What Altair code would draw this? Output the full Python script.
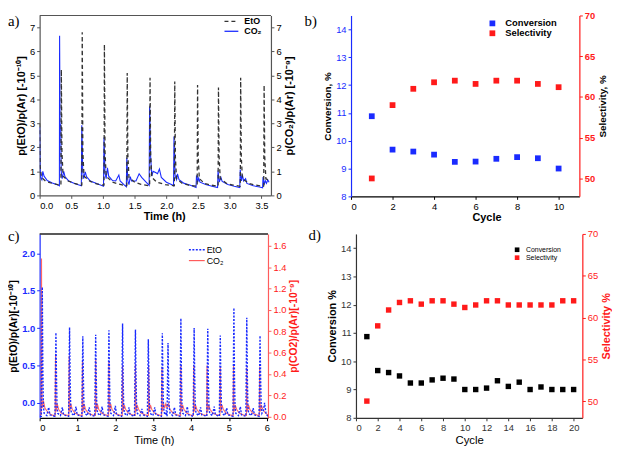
import altair as alt
import pandas as pd

# ---------------- Panel a: EtO (left axis) and CO2 (right axis) vs time ----------------
a_eto_t = [0.000, 0.008, 0.030, 0.100, 0.200, 0.333,
           0.336, 0.342, 0.352, 0.370, 0.450, 0.550, 0.663,
           0.666, 0.672, 0.682, 0.700, 0.800, 0.900, 1.013,
           1.016, 1.022, 1.032, 1.050, 1.150, 1.250, 1.373,
           1.376, 1.382, 1.392, 1.410, 1.500, 1.600, 1.733,
           1.736, 1.742, 1.752, 1.770, 1.850, 1.980, 2.123,
           2.126, 2.132, 2.142, 2.160, 2.250, 2.350, 2.483,
           2.486, 2.492, 2.502, 2.520, 2.600, 2.700, 2.813,
           2.816, 2.822, 2.832, 2.850, 2.950, 3.050, 3.163,
           3.166, 3.172, 3.182, 3.200, 3.300, 3.400, 3.533,
           3.536, 3.542, 3.552, 3.570, 3.620]
a_eto_v = [3.00, 1.20, 0.75, 0.58, 0.50, 0.42,
           0.45, 5.25, 1.80, 0.80, 0.60, 0.50, 0.42,
           0.45, 6.80, 1.80, 0.80, 0.58, 0.48, 0.42,
           0.45, 6.30, 1.80, 0.80, 0.55, 0.47, 0.40,
           0.42, 5.10, 1.70, 0.75, 0.55, 0.46, 0.40,
           0.42, 4.90, 1.70, 0.75, 0.55, 0.45, 0.40,
           0.42, 4.75, 1.60, 0.70, 0.50, 0.43, 0.38,
           0.40, 4.60, 1.60, 0.70, 0.50, 0.43, 0.38,
           0.40, 4.50, 1.60, 0.70, 0.50, 0.43, 0.38,
           0.40, 4.90, 1.60, 0.70, 0.50, 0.43, 0.38,
           0.40, 4.60, 1.60, 0.70, 0.60]

a_co2_t = [0.000, 0.006, 0.015, 0.035, 0.050, 0.070, 0.120, 0.200, 0.300,
           0.312, 0.315, 0.322, 0.332, 0.340, 0.355, 0.380, 0.400, 0.460, 0.550, 0.658,
           0.665, 0.672, 0.680, 0.695, 0.720, 0.740, 0.800, 0.900, 1.008,
           1.015, 1.022, 1.032, 1.050, 1.070, 1.090, 1.150, 1.200, 1.250, 1.270, 1.330, 1.368,
           1.375, 1.382, 1.392, 1.410, 1.430, 1.450, 1.520, 1.570, 1.610, 1.680, 1.728,
           1.735, 1.742, 1.752, 1.770, 1.790, 1.830, 1.860, 1.890, 1.920, 2.000, 2.080, 2.113,
           2.120, 2.128, 2.138, 2.160, 2.175, 2.200, 2.280, 2.380, 2.468,
           2.475, 2.485, 2.495, 2.510, 2.530, 2.620, 2.720, 2.808,
           2.815, 2.825, 2.835, 2.860, 2.880, 2.970, 3.070, 3.158,
           3.165, 3.175, 3.185, 3.200, 3.220, 3.250, 3.270, 3.370, 3.470, 3.518,
           3.525, 3.535, 3.545, 3.560, 3.580, 3.600, 3.620]
a_co2_v = [2.85, 1.20, 0.75, 0.65, 1.00, 0.80, 0.62, 0.52, 0.42,
           0.40, 6.65, 3.00, 2.90, 1.00, 0.70, 1.00, 0.78, 0.60, 0.50, 0.40,
           2.92, 2.20, 1.00, 0.70, 0.98, 0.78, 0.60, 0.50, 0.38,
           2.41, 1.90, 0.90, 0.70, 1.15, 0.80, 0.62, 0.60, 0.85, 0.60, 0.45, 0.36,
           1.57, 1.20, 0.60, 0.45, 0.78, 0.60, 0.60, 0.90, 0.75, 0.55, 0.42,
           3.72, 3.00, 1.60, 0.80, 1.00, 0.95, 0.90, 1.10, 0.75, 0.55, 0.45, 0.40,
           2.45, 1.80, 0.80, 0.65, 0.90, 0.65, 0.50, 0.42, 0.33,
           0.83, 0.75, 0.55, 0.72, 0.55, 0.45, 0.38, 0.33,
           1.04, 0.80, 0.55, 0.75, 0.58, 0.45, 0.38, 0.33,
           1.08, 0.85, 0.60, 0.85, 0.60, 0.70, 0.50, 0.40, 0.35, 0.32,
           0.77, 0.60, 0.45, 0.62, 0.50, 0.65, 0.55]

# ---------------- Panel b: 10 cycles ----------------
b_cycle = [1, 2, 3, 4, 5, 6, 7, 8, 9, 10]
b_conv = [10.88, 9.68, 9.61, 9.50, 9.24, 9.25, 9.35, 9.41, 9.37, 9.00]
b_sel = [50.0, 59.0, 61.0, 61.8, 62.0, 61.6, 62.0, 62.0, 61.6, 61.2]

# ---------------- Panel c: EtO (left) and CO2 (right) vs time, 6 h ----------------
c_eto_t = [0.000,
           0.045, 0.070, 0.085, 0.100, 0.120, 0.190, 0.240, 0.270,
           0.405, 0.430, 0.445, 0.460, 0.480, 0.550, 0.600, 0.630,
           0.765, 0.790, 0.805, 0.820, 0.840, 0.910, 0.960, 0.990,
           1.115, 1.140, 1.155, 1.170, 1.190, 1.260, 1.310, 1.340,
           1.455, 1.480, 1.495, 1.510, 1.530, 1.600, 1.650, 1.680,
           1.805, 1.830, 1.845, 1.860, 1.880, 1.950, 2.000, 2.030,
           2.165, 2.190, 2.205, 2.220, 2.240, 2.310, 2.360, 2.390,
           2.505, 2.530, 2.545, 2.560, 2.580, 2.650, 2.700, 2.730,
           2.845, 2.870, 2.885, 2.900, 2.920, 2.990, 3.040, 3.070,
           3.215, 3.240, 3.255, 3.270, 3.295, 3.325, 3.345, 3.355,
           3.365, 3.390, 3.405, 3.420, 3.445, 3.510, 3.560, 3.590,
           3.705, 3.730, 3.745, 3.760, 3.780, 3.850, 3.900, 3.930,
           4.055, 4.080, 4.095, 4.110, 4.130, 4.200, 4.250, 4.280,
           4.415, 4.440, 4.455, 4.470, 4.490, 4.560, 4.610, 4.640,
           4.745, 4.770, 4.785, 4.800, 4.820, 4.890, 4.940, 4.970,
           5.105, 5.130, 5.145, 5.160, 5.180, 5.250, 5.300, 5.330,
           5.445, 5.470, 5.485, 5.500, 5.520, 5.590, 5.640, 5.670,
           5.795, 5.820, 5.835, 5.850, 5.870, 5.910, 5.940, 5.980, 6.030]
c_eto_v = [-0.18,
           -0.18, 1.55, 0.45, -0.05, -0.14, -0.17, -0.06, -0.16,
           -0.18, 0.94, 0.35, -0.05, -0.14, -0.17, -0.06, -0.16,
           -0.18, 1.01, 0.35, -0.05, -0.14, -0.17, -0.05, -0.16,
           -0.18, 0.89, 0.35, -0.05, -0.14, -0.17, -0.06, -0.16,
           -0.18, 0.91, 0.35, -0.05, -0.14, -0.17, -0.05, -0.16,
           -0.18, 0.97, 0.35, -0.05, -0.14, -0.17, -0.04, -0.16,
           -0.18, 1.06, 0.35, -0.05, -0.14, -0.17, -0.06, -0.16,
           -0.18, 0.98, 0.35, -0.05, -0.14, -0.17, -0.08, -0.16,
           -0.18, 0.85, 0.35, -0.05, -0.14, -0.17, -0.06, -0.16,
           -0.18, 0.93, 0.35, -0.05, -0.14, -0.16, -0.10, -0.17,
           -0.18, 0.80, 0.30, -0.05, -0.14, -0.17, -0.06, -0.16,
           -0.18, 1.13, 0.35, -0.05, -0.14, -0.17, -0.05, -0.16,
           -0.18, 1.00, 0.35, -0.05, -0.14, -0.17, -0.06, -0.16,
           -0.18, 0.99, 0.35, -0.05, -0.14, -0.17, -0.05, -0.16,
           -0.18, 0.90, 0.35, -0.05, -0.14, -0.17, -0.07, -0.16,
           -0.18, 1.27, 0.35, -0.05, -0.14, -0.17, -0.05, -0.16,
           -0.18, 1.14, 0.35, -0.05, -0.14, -0.17, -0.07, -0.16,
           -0.18, 0.90, 0.35, -0.05, -0.14, -0.10, 0.00, -0.15, -0.18]

c_co2_t = [0.000, 0.042, 0.050, 0.058, 0.068, 0.100, 0.140, 0.220, 0.330,
           0.412, 0.420, 0.428, 0.438, 0.465, 0.500, 0.570, 0.700,
           0.772, 0.780, 0.788, 0.798, 0.825, 0.860, 0.930, 1.060,
           1.122, 1.130, 1.138, 1.148, 1.175, 1.210, 1.280, 1.410,
           1.472, 1.480, 1.488, 1.498, 1.525, 1.560, 1.630, 1.760,
           1.822, 1.830, 1.838, 1.848, 1.875, 1.910, 1.980, 2.110,
           2.182, 2.190, 2.198, 2.208, 2.235, 2.270, 2.340, 2.470,
           2.522, 2.530, 2.538, 2.548, 2.575, 2.610, 2.680, 2.810,
           2.872, 2.880, 2.888, 2.898, 2.925, 2.960, 3.030, 3.160,
           3.222, 3.230, 3.238, 3.248, 3.275, 3.300, 3.330, 3.360, 3.400, 3.440, 3.520, 3.650,
           3.722, 3.730, 3.738, 3.748, 3.775, 3.810, 3.880, 4.000,
           4.062, 4.070, 4.078, 4.088, 4.115, 4.150, 4.220, 4.350,
           4.412, 4.420, 4.428, 4.438, 4.465, 4.500, 4.570, 4.700,
           4.762, 4.770, 4.778, 4.788, 4.815, 4.850, 4.920, 5.050,
           5.112, 5.120, 5.128, 5.138, 5.165, 5.200, 5.270, 5.400,
           5.462, 5.470, 5.478, 5.488, 5.515, 5.550, 5.620, 5.750,
           5.802, 5.810, 5.818, 5.828, 5.855, 5.890, 5.960, 6.030]
c_co2_v = [0.020, 0.020, 1.48, 0.40, 0.08, 0.15, 0.08, 0.04, 0.015,
           0.012, 0.59, 0.20, 0.05, 0.12, 0.07, 0.035, 0.015,
           0.012, 0.57, 0.20, 0.05, 0.12, 0.07, 0.035, 0.015,
           0.012, 0.52, 0.18, 0.05, 0.12, 0.07, 0.035, 0.015,
           0.012, 0.54, 0.18, 0.05, 0.12, 0.07, 0.035, 0.015,
           0.012, 0.52, 0.18, 0.05, 0.12, 0.07, 0.035, 0.015,
           0.012, 0.48, 0.17, 0.05, 0.11, 0.07, 0.035, 0.015,
           0.012, 0.49, 0.17, 0.05, 0.11, 0.07, 0.035, 0.015,
           0.012, 0.47, 0.17, 0.05, 0.11, 0.07, 0.035, 0.015,
           0.012, 0.46, 0.17, 0.05, 0.12, 0.08, 0.12, 0.09, 0.12, 0.07, 0.035, 0.015,
           0.012, 0.48, 0.17, 0.05, 0.11, 0.07, 0.035, 0.015,
           0.012, 0.48, 0.17, 0.05, 0.11, 0.07, 0.035, 0.015,
           0.012, 0.48, 0.17, 0.05, 0.11, 0.07, 0.035, 0.015,
           0.012, 0.47, 0.17, 0.05, 0.11, 0.07, 0.035, 0.015,
           0.012, 0.48, 0.17, 0.05, 0.11, 0.07, 0.035, 0.015,
           0.012, 0.46, 0.17, 0.05, 0.11, 0.07, 0.035, 0.015,
           0.012, 0.47, 0.17, 0.05, 0.11, 0.07, 0.035, 0.015]

# ---------------- Panel d: 20 cycles ----------------
d_cycle = list(range(1, 21))
d_conv = [10.87, 9.67, 9.60, 9.48, 9.23, 9.23, 9.34, 9.40, 9.37, 9.00,
          9.00, 9.05, 9.31, 9.11, 9.26, 9.00, 9.09, 9.00, 9.00, 9.00]
d_sel = [50.0, 59.0, 60.9, 61.8, 62.0, 61.6, 62.0, 62.0, 61.6, 61.2,
         61.5, 62.0, 62.0, 61.5, 61.5, 61.5, 61.5, 61.5, 62.0, 62.0]

SANS = "Liberation Sans"
SERIF = "Liberation Serif"
BLUE = "#1a2bff"
RED = "#ff1a1a"
GRAY = "#555555"

one = pd.DataFrame({"k": [0]})


def ax(title, color="#000000", label_color=None, title_color="#000000", orient=None,
       values=None, fmt=None, title_weight="bold", title_size=11, label_size=9.5,
       label_weight="normal", title_padding=3, right=False, **kw):
    d = dict(title=title, grid=False, domainColor=color, tickColor=color,
             labelColor=label_color or color, titleColor=title_color,
             labelFont=SANS, titleFont=SANS, labelFontSize=label_size,
             labelFontWeight=label_weight, titleFontSize=title_size,
             titleFontWeight=title_weight, tickSize=3, labelPadding=2,
             titlePadding=title_padding, domainWidth=1.2, tickWidth=1)
    if orient:
        d["orient"] = orient
    if right:
        d["titleAngle"] = 270
        d["titleBaseline"] = "top"
    if values is not None:
        d["values"] = values
    if fmt:
        d["format"] = fmt
    d.update(kw)
    return alt.Axis(**d)


def label(txt, x, y):
    return alt.Chart(one).mark_text(text=txt, font=SERIF, fontSize=15, align="left",
                                    baseline="top", color="#000").encode(
        x=alt.value(x), y=alt.value(y))


def key_line(x1, x2, y, color, width, dash=None):
    kw = dict(color=color, strokeWidth=width)
    if dash:
        kw["strokeDash"] = dash
    return alt.Chart(one).mark_rule(**kw).encode(x=alt.value(x1), x2=alt.value(x2), y=alt.value(y))


def key_text(x, y, txt, size, weight="normal"):
    return alt.Chart(one).mark_text(text=txt, font=SANS, fontSize=size, fontWeight=weight,
                                    align="left", baseline="middle", color="#000").encode(
        x=alt.value(x), y=alt.value(y))


def key_square(x, y, color, size):
    return alt.Chart(one).mark_square(color=color, size=size, opacity=1).encode(
        x=alt.value(x), y=alt.value(y))


# ---------------- build panel a ----------------
WA, HA = 234, 182
dfa_eto = pd.DataFrame({"t": a_eto_t, "v": a_eto_v})
dfa_co2 = pd.DataFrame({"t": a_co2_t, "v": a_co2_v})
xa = alt.X("t:Q", scale=alt.Scale(domain=[0, 3.65], nice=False, zero=False),
           axis=ax("Time (h)", color=GRAY, label_color="#000", values=[0, 0.5, 1, 1.5, 2, 2.5, 3, 3.5],
                   fmt=".1f", title_padding=1, titleX=126))
co2_a = alt.Chart(dfa_co2).mark_line(color=BLUE, strokeWidth=1.1, clip=True).encode(
    x=xa,
    y=alt.Y("v:Q", scale=alt.Scale(domain=[0, 7.5], nice=False),
            axis=ax("p(CO₂)/p(Ar) [-10⁻⁹]", color=GRAY, label_color="#000", orient="right",
                    values=list(range(8)), right=True)))
eto_a = alt.Chart(dfa_eto).mark_line(color="#333333", strokeDash=[4, 3], strokeWidth=1.3, clip=True).encode(
    x=xa,
    y=alt.Y("v:Q", scale=alt.Scale(domain=[0, 7.5], nice=False),
            axis=ax("p(EtO)/p(Ar) [-10⁻¹⁰]", color=GRAY, label_color="#000", orient="left",
                    values=list(range(8)))))
top_a = key_line(0, WA, 0, GRAY, 1.2)
pa = alt.layer(
    co2_a, eto_a, top_a,
    key_line(187, 201, 6, "#333333", 1.3, [4, 3]), key_text(207, 6, "EtO", 9, "bold"),
    key_line(187, 201, 16, BLUE, 1.3), key_text(207, 16, "CO₂", 9, "bold"),
    label("a)", -32, -1),
).resolve_scale(y="independent").properties(width=WA, height=HA)

# ---------------- build panel b ----------------
WB, HB = 231, 183
dfb = pd.DataFrame({"cycle": b_cycle, "conv": b_conv, "sel": b_sel})
xb = alt.X("cycle:Q", scale=alt.Scale(domain=[0, 11], nice=False),
           axis=ax("Cycle", values=[0, 2, 4, 6, 8, 10], title_padding=1, titleX=137))
conv_b = alt.Chart(dfb).mark_square(size=34, color=BLUE, opacity=1).encode(
    x=xb,
    y=alt.Y("conv:Q", scale=alt.Scale(domain=[8, 14.5], nice=False, zero=False),
            axis=ax("Conversion, %", color=BLUE, label_color=BLUE, orient="left",
                    values=[8, 9, 10, 11, 12, 13, 14], title_size=10)))
sel_b = alt.Chart(dfb).mark_square(size=34, color=RED, opacity=1).encode(
    x=xb,
    y=alt.Y("sel:Q", scale=alt.Scale(domain=[47.8, 70], nice=False, zero=False),
            axis=ax("Selectivity, %", color=RED, label_color=RED, orient="right",
                    values=[50, 55, 60, 65, 70], label_weight="bold", title_size=10, right=True)))
pb = alt.layer(
    conv_b, sel_b,
    key_square(143, 8, BLUE, 34), key_text(156, 8, "Conversion", 9.5, "bold"),
    key_square(143, 18, RED, 34), key_text(156, 18, "Selectivity", 9.5, "bold"),
    label("b)", -47, -1),
).resolve_scale(y="independent").properties(width=WB, height=HB)

# ---------------- build panel c ----------------
WC, HC = 231, 186
dfc_eto = pd.DataFrame({"t": c_eto_t, "v": c_eto_v})
dfc_co2 = pd.DataFrame({"t": c_co2_t, "v": c_co2_v})
xc = alt.X("t:Q", scale=alt.Scale(domain=[0, 6.03], nice=False, zero=False),
           axis=ax("Time (h)", values=[0, 1, 2, 3, 4, 5, 6], title_weight="normal", title_padding=2))
co2_c = alt.Chart(dfc_co2).mark_line(color="#ff4d4d", strokeWidth=1.1, opacity=0.85, clip=True).encode(
    x=xc,
    y=alt.Y("v:Q", scale=alt.Scale(domain=[-0.01, 1.71], nice=False, zero=False),
            axis=ax("p(CO2)/p(Ar)[-10⁻⁹]", color="#ff5c5c", label_color=RED, title_color=RED,
                    orient="right", values=[0, 0.2, 0.4, 0.6, 0.8, 1.0, 1.2, 1.4, 1.6], fmt=".1f",
                    title_size=10.5, right=True)))
eto_c = alt.Chart(dfc_eto).mark_line(color=BLUE, strokeDash=[2, 1.5], strokeWidth=1.4, clip=True).encode(
    x=xc,
    y=alt.Y("v:Q", scale=alt.Scale(domain=[-0.2, 2.26], nice=False, zero=False),
            axis=ax("p(EtO)/p(Ar)[-10⁻¹⁰]", color=BLUE, label_color=BLUE, orient="left",
                    values=[0, 0.5, 1.0, 1.5, 2.0], fmt=".1f", label_weight="bold", title_size=10.5)))
top_c = key_line(0, WC, 0, "#222222", 1.6)
pc = alt.layer(
    co2_c, eto_c, top_c,
    key_line(151, 167, 16, BLUE, 1.4, [2, 1.5]), key_text(169, 16, "EtO", 9),
    key_line(151, 167, 27, "#ff4d4d", 1.1), key_text(169, 27, "CO₂", 9),
    label("c)", -32, -5),
).resolve_scale(y="independent").properties(width=WC, height=HC)

# ---------------- build panel d ----------------
WD, HD = 229, 186
dfd = pd.DataFrame({"cycle": d_cycle, "conv": d_conv, "sel": d_sel})
xd = alt.X("cycle:Q", scale=alt.Scale(domain=[0, 20.8], nice=False),
           axis=ax("Cycle", color="#333333", label_color="#333333", values=list(range(0, 21, 2)),
                   title_weight="normal", title_size=11.5, title_padding=3))
conv_d = alt.Chart(dfd).mark_square(size=30, color="#000000", opacity=1).encode(
    x=xd,
    y=alt.Y("conv:Q", scale=alt.Scale(domain=[8, 14.5], nice=False, zero=False),
            axis=ax("Conversion %", color="#333333", label_color="#333333", orient="left",
                    values=[8, 9, 10, 11, 12, 13, 14])))
sel_d = alt.Chart(dfd).mark_square(size=30, color=RED, opacity=1).encode(
    x=xd,
    y=alt.Y("sel:Q", scale=alt.Scale(domain=[48, 70], nice=False, zero=False),
            axis=ax("Selectivity %", color=RED, label_color=RED, title_color=RED, orient="right",
                    values=[50, 55, 60, 65, 70], right=True)))
pd_ = alt.layer(
    conv_d, sel_d,
    key_square(163, 16, "#000000", 22), key_text(172, 16, "Conversion", 7),
    key_square(163, 24, RED, 22), key_text(172, 24, "Selectivity", 7),
    label("d)", -48, -6),
).resolve_scale(y="independent").properties(width=WD, height=HD)

row1 = alt.hconcat(pa, pb, spacing=9)
row2 = alt.hconcat(pc, pd_, spacing=9)
chart = alt.vconcat(row1, row2, spacing=5).properties(padding=0).configure_view(stroke=None)

chart.save("out.html", embed_options={"renderer": "svg", "actions": False})
